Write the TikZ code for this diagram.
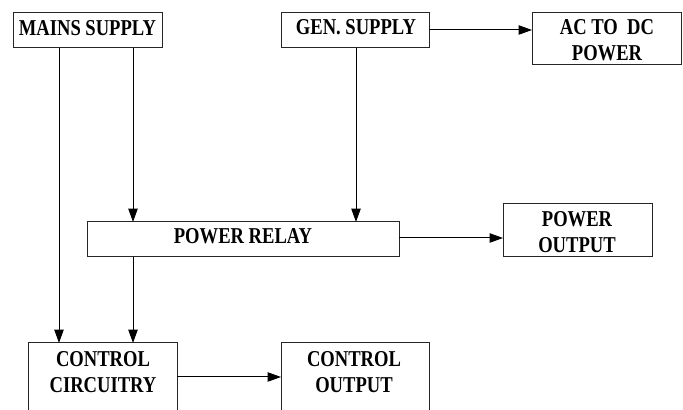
\documentclass[tikz,border=0pt]{standalone}
\usepackage{fontspec}
\newfontfamily\boxfont[FakeStretch=0.82]{Liberation Serif}
\usetikzlibrary{arrows.meta}
\begin{document}
\begin{tikzpicture}[x=0.75pt,y=0.75pt,
  blk/.style={draw=black!85,line width=0.75pt,inner sep=0pt,outer sep=0pt},
  txt/.style={inner sep=0pt,align=center,font=\boxfont\bfseries\fontsize{17}{19.5}\selectfont},
  arr/.style={draw=black,line width=0.75pt,-{Triangle[length=10pt,width=7pt]}}]
\useasboundingbox (0,0) rectangle (683,410);
\clip (0,0) rectangle (683,410);
% boxes
\node[blk,minimum width=149*0.75pt,minimum height=35*0.75pt] (mains) at (87.5,379.5) {};
\node[blk,minimum width=148*0.75pt,minimum height=35*0.75pt] (gen) at (355,379.5) {};
\node[blk,minimum width=149*0.75pt,minimum height=52*0.75pt] (ac) at (606.5,371) {};
\node[blk,minimum width=312*0.75pt,minimum height=35*0.75pt] (pr) at (243,170.5) {};
\node[blk,minimum width=149*0.75pt,minimum height=53*0.75pt] (po) at (577.5,179.5) {};
\node[blk,minimum width=149*0.75pt,minimum height=87*0.75pt] (cc) at (102.5,23.5) {};
\node[blk,minimum width=148*0.75pt,minimum height=87*0.75pt] (co) at (355,23.5) {};
% texts
\node[txt] (mainsT) at (87.5,382) {MAINS SUPPLY};
\node[txt] (genT) at (356,383) {GEN. SUPPLY};
\node[txt] (acT) at (607,369.5) {AC TO\ \ DC\\POWER};
\node[txt] (prT) at (243,173.5) {POWER RELAY};
\node[txt] (poT) at (577,178) {POWER\\OUTPUT};
\node[txt] (ccT) at (103,37.5) {CONTROL\\CIRCUITRY};
\node[txt] (coT) at (354,38) {CONTROL\\OUTPUT};
% x positions of vertical connectors
\coordinate (x1) at (59,0);
\coordinate (x2) at (133,0);
\coordinate (x3) at (356,0);
% connectors
\draw[arr] (mains.south -| x1) -- (cc.north -| x1);
\draw[arr] (mains.south -| x2) -- (pr.north -| x2);
\draw[arr] (gen.south -| x3) -- (pr.north -| x3);
\draw[arr] (gen.east |- 0,380) -- (ac.west |- 0,380);
\draw[arr] (pr.east |- 0,172) -- (po.west |- 0,172);
\draw[arr] (pr.south -| x2) -- (cc.north -| x2);
\draw[arr] (cc.east |- 0,33) -- (co.west |- 0,33);
\end{tikzpicture}
\end{document}
